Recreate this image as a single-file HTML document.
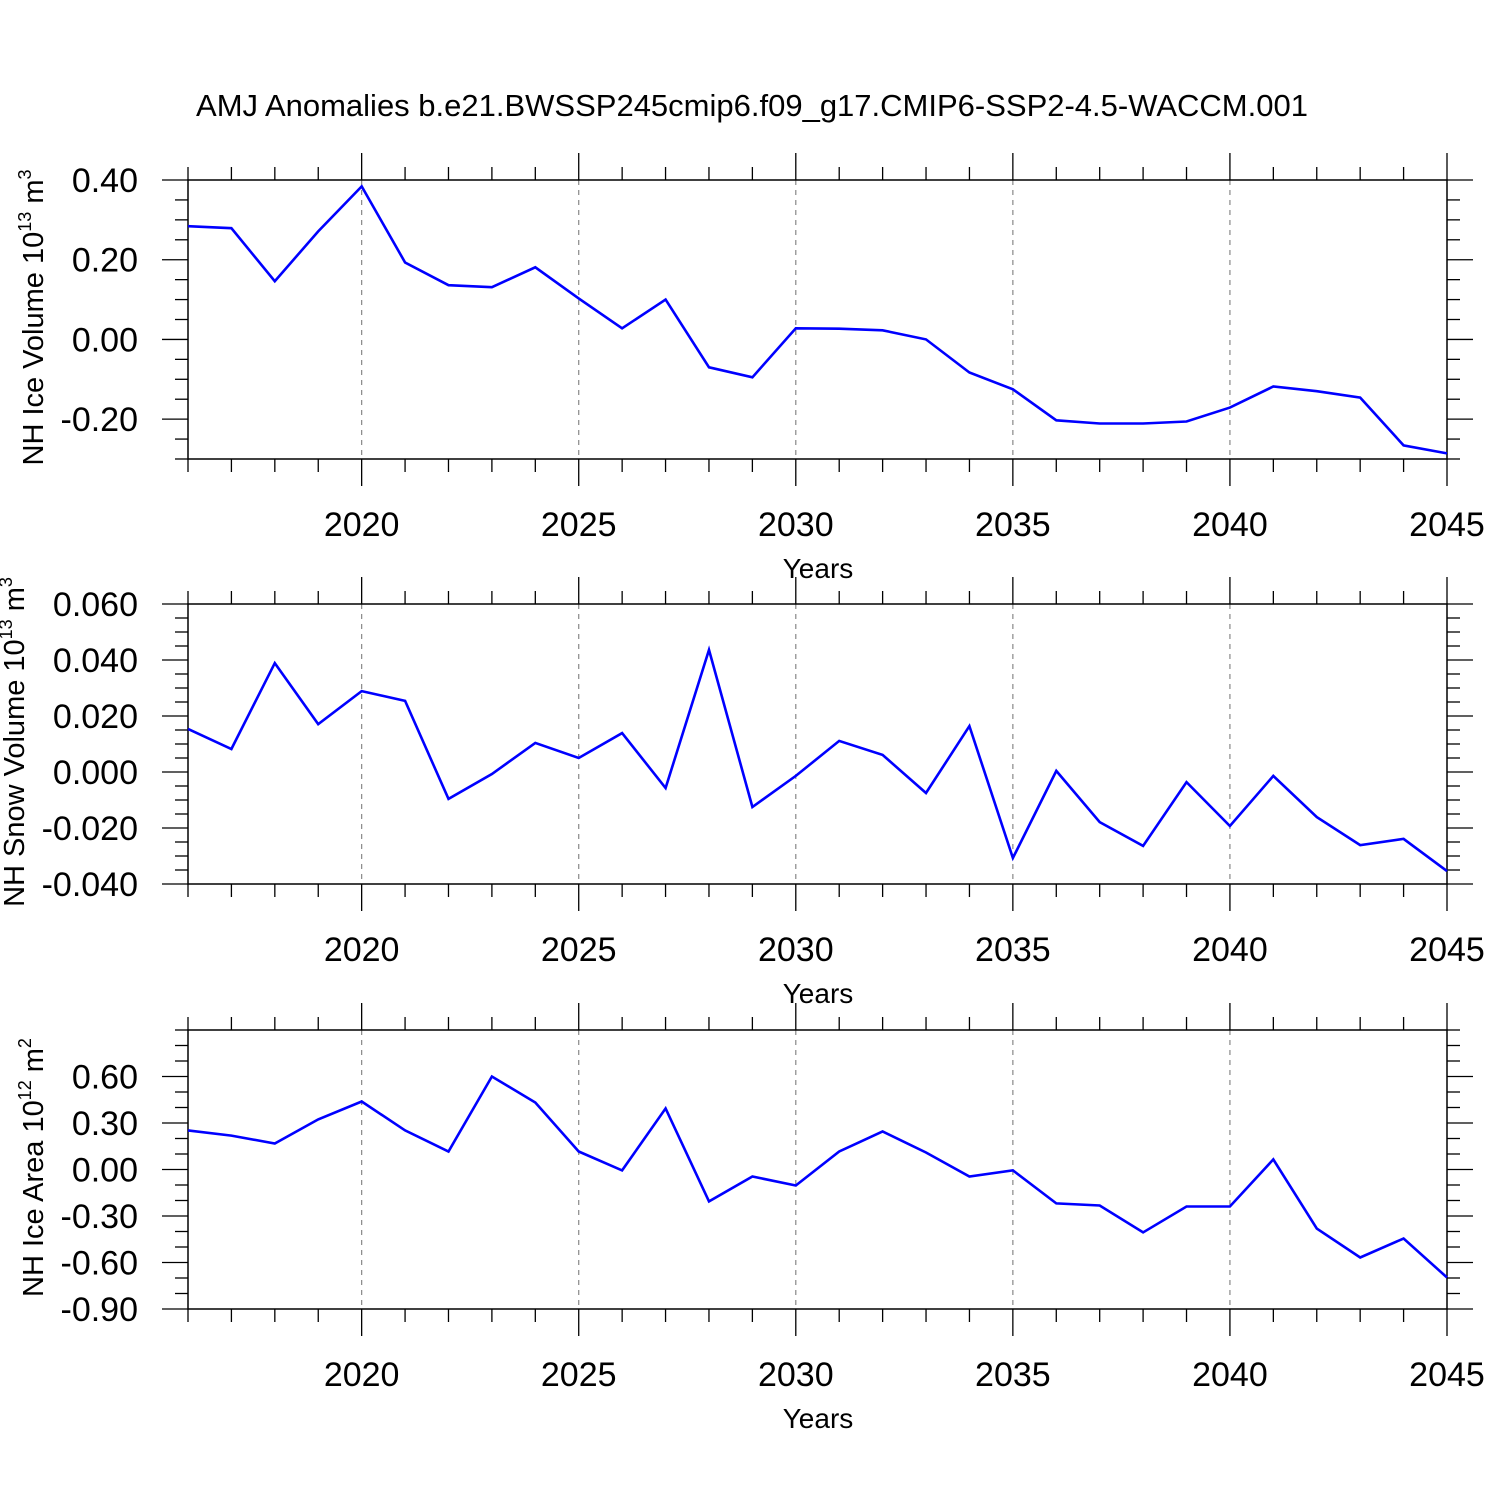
<!DOCTYPE html>
<html><head><meta charset="utf-8">
<style>
html,body{margin:0;padding:0;background:#fff;}
svg{display:block;font-family:"Liberation Sans",Arial,sans-serif;}
</style></head>
<body>
<svg id="chart" width="1500" height="1500" viewBox="0 0 1500 1500" xmlns="http://www.w3.org/2000/svg">
<rect width="1500" height="1500" fill="#fff"/>
<text x="752" y="116" font-size="31" text-anchor="middle">AMJ Anomalies b.e21.BWSSP245cmip6.f09_g17.CMIP6-SSP2-4.5-WACCM.001</text>
</svg>
<script>
const years = [2016,2017,2018,2019,2020,2021,2022,2023,2024,2025,2026,2027,2028,2029,2030,2031,2032,2033,2034,2035,2036,2037,2038,2039,2040,2041,2042,2043,2044,2045];
const xTickLabels = ["2020","2025","2030","2035","2040","2045"];
const iceVolume = [0.284,0.279,0.146,0.271,0.384,0.193,0.136,0.131,0.181,0.103,0.028,0.100,-0.070,-0.095,0.028,0.027,0.023,0.000,-0.083,-0.125,-0.203,-0.211,-0.211,-0.206,-0.171,-0.118,-0.130,-0.146,-0.266,-0.286];
const snowVolume = [0.0154,0.0082,0.0389,0.0171,0.0289,0.0254,-0.0096,-0.0007,0.0104,0.0050,0.0139,-0.0057,0.0436,-0.0125,-0.0014,0.0111,0.0061,-0.0075,0.0164,-0.0307,0.0004,-0.0179,-0.0264,-0.0036,-0.0193,-0.0014,-0.0161,-0.0261,-0.0239,-0.0354];
const iceArea = [0.252,0.219,0.168,0.323,0.439,0.252,0.116,0.600,0.432,0.116,-0.006,0.394,-0.206,-0.045,-0.103,0.116,0.245,0.110,-0.045,-0.006,-0.219,-0.232,-0.406,-0.239,-0.239,0.065,-0.381,-0.568,-0.445,-0.697];
const iceVolTicks = ["0.40","0.20","0.00","-0.20"];
const snowTicks = ["0.060","0.040","0.020","0.000","-0.020","-0.040"];
const areaTicks = ["0.60","0.30","0.00","-0.30","-0.60","-0.90"];

const NS="http://www.w3.org/2000/svg";
const svg=document.getElementById('chart');
const X0=188,X1=1447,XMIN=2016,XMAX=2045;
function xs(v){return X0+(v-XMIN)/(XMAX-XMIN)*(X1-X0);}
function mk(tag,attrs,parent){const e=document.createElementNS(NS,tag);for(const k in attrs)e.setAttribute(k,attrs[k]);(parent||svg).appendChild(e);return e;}

const panels=[
 {id:'ice-volume',top:180,bot:459,ymin:-0.30,ymax:0.40,minor:0.05,ticks:iceVolTicks,data:iceVolume,title:'NH Ice Volume 10',sup:'13',unit:' m',usup:'3',tx:43},
 {id:'snow-volume',top:604,bot:884,ymin:-0.040,ymax:0.060,minor:0.005,ticks:snowTicks,data:snowVolume,title:'NH Snow Volume 10',sup:'13',unit:' m',usup:'3',tx:24},
 {id:'ice-area',top:1030,bot:1309,ymin:-0.90,ymax:0.90,minor:0.10,ticks:areaTicks,data:iceArea,title:'NH Ice Area 10',sup:'12',unit:' m',usup:'2',tx:43}
];

panels.forEach(p=>{
  const g=mk('g',{});
  
  
  const ys=v=>p.bot-(v-p.ymin)/(p.ymax-p.ymin)*(p.bot-p.top);
  xTickLabels.forEach(t=>{const v=+t; if(v<XMAX){const l=mk('line',{x1:xs(v),x2:xs(v),y1:p.top,y2:p.bot,stroke:'#888','stroke-width':1.2,'stroke-dasharray':'5,5'},g);
    
    }});
  years.forEach(v=>{
    const major=(v%5===0); const len=major?27:13;
    mk('line',{x1:xs(v),x2:xs(v),y1:p.top-len,y2:p.top,stroke:'#000','stroke-width':1.3},g);
    mk('line',{x1:xs(v),x2:xs(v),y1:p.bot,y2:p.bot+len,stroke:'#000','stroke-width':1.3},g);
  });
  xTickLabels.forEach(t=>{const tx=mk('text',{x:xs(+t),y:p.bot+77,'font-size':34,'text-anchor':'middle'},g);tx.textContent=t;
    
    });
  const xt=mk('text',{x:818,y:p.bot+119,'font-size':28,'text-anchor':'middle'},g);xt.textContent='Years';
  
  
  const n=Math.round((p.ymax-p.ymin)/p.minor);
  const majorVals=p.ticks.map(Number);
  for(let i=0;i<=n;i++){
    const v=p.ymin+i*p.minor; const y=ys(v);
    const major=majorVals.some(m=>Math.abs(m-v)<p.minor/10); const len=major?26:13;
    mk('line',{x1:X0-len,x2:X0,y1:y,y2:y,stroke:'#000','stroke-width':1.3},g);
    mk('line',{x1:X1,x2:X1+len,y1:y,y2:y,stroke:'#000','stroke-width':1.3},g);
  }
  p.ticks.forEach(t=>{const tx=mk('text',{x:138,y:ys(+t)+12,'font-size':34,'text-anchor':'end'},g);tx.textContent=t;
    
    });
  const fr=mk('rect',{x:X0,y:p.top,width:X1-X0,height:p.bot-p.top,fill:'none',stroke:'#000','stroke-width':1.5},g);
  
  
  const cy=(p.top+p.bot)/2;
  const yt=mk('text',{x:0,y:0,'font-size':29,'text-anchor':'middle',transform:`translate(${p.tx},${cy-2}) rotate(-90)`},g);
  
  
  const s1=mk('tspan',{},yt);s1.textContent=p.title;
  const s2=mk('tspan',{dy:-12,'font-size':18},yt);s2.textContent=p.sup;
  const s3=mk('tspan',{dy:12},yt);s3.textContent=p.unit;
  const s4=mk('tspan',{dy:-12,'font-size':18},yt);s4.textContent=p.usup;
  const pts=p.data.map((v,i)=>xs(years[i]).toFixed(1)+','+ys(v).toFixed(1)).join(' ');
  const pl=mk('polyline',{points:pts,fill:'none',stroke:'#0000ff','stroke-width':2.6,'stroke-linejoin':'miter'},g);
  
  
});
</script>
</body></html>
